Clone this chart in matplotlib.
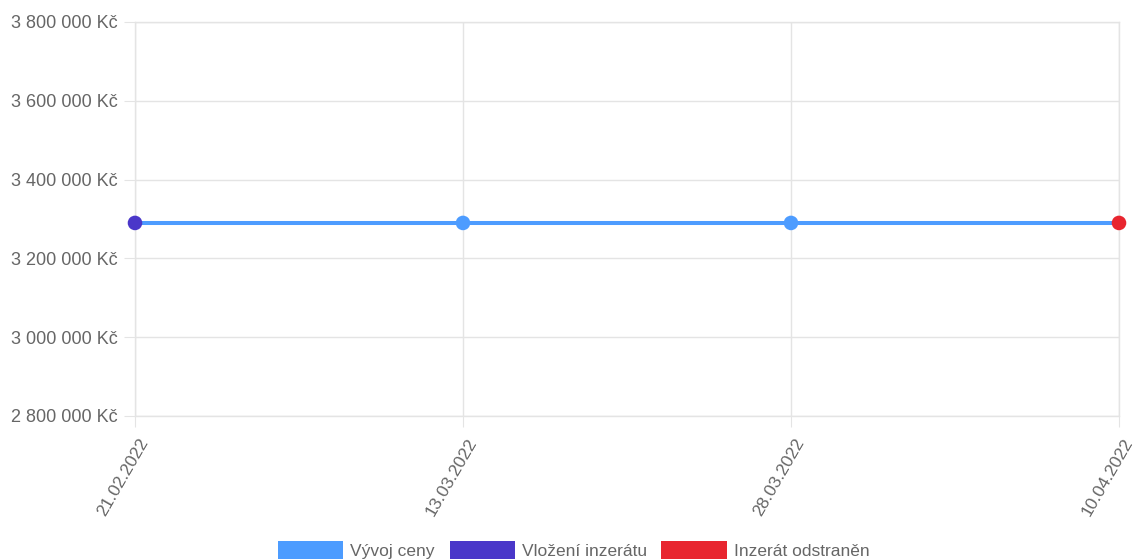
import matplotlib.pyplot as plt
import matplotlib.transforms as mtransforms
from matplotlib.patches import Patch

plt.rcParams['font.family'] = ['Liberation Sans', 'DejaVu Sans']

dates = ['21.02.2022', '13.03.2022', '28.03.2022', '10.04.2022']
prices = [3290000, 3290000, 3290000, 3290000]
point_colors = ['#4a37c9', '#4d9cff', '#4d9cff', '#e8252f']
yticks = [2800000, 3000000, 3200000, 3400000, 3600000, 3800000]
legend_labels = ['Vývoj ceny', 'Vložení inzerátu', 'Inzerát odstraněn']
legend_colors = ['#4d9cff', '#4a37c9', '#e8252f']

grid_c = '#e4e4e4'
text_c = '#666666'
fs = 13

fig = plt.figure(figsize=(11.36, 5.6), dpi=100)
ax = fig.add_axes([135/1136, 1 - 416/560, (1119 - 135)/1136, (416 - 22)/560])

x = list(range(len(dates)))
ax.plot(x, prices, color='#4d9cff', lw=2.9, zorder=3, clip_on=False)
ax.scatter(x, prices, s=10.5**2, c=point_colors, zorder=4, clip_on=False, linewidths=0)

ax.set_xlim(0, len(dates) - 1)
ax.set_ylim(yticks[0], yticks[-1])
ax.set_yticks(yticks)
ax.set_yticklabels([f'{v:,} Kč'.replace(',', ' ') for v in yticks])
ax.set_xticks(x)
ax.set_xticklabels(dates, rotation=60, rotation_mode='anchor', ha='right', va='center')

ax.grid(True, color=grid_c, lw=1)
for s in ax.spines.values():
    s.set_color(grid_c)
    s.set_linewidth(1)
ax.tick_params(axis='both', colors=grid_c, labelcolor=text_c, labelsize=fs, length=8)
ax.tick_params(axis='x', labelsize=12.5, pad=6)
ax.tick_params(axis='y', pad=4.5)

# shift rotated date labels a bit to the right / down
offset = mtransforms.ScaledTranslation(10/100, -4/100, fig.dpi_scale_trans)
for lbl in ax.get_xticklabels():
    lbl.set_transform(lbl.get_transform() + offset)

handles = [Patch(facecolor=c, edgecolor='none') for c in legend_colors]
fig.legend(handles, legend_labels, loc='center', bbox_to_anchor=(0.505, 1 - 550/560), ncol=3,
           frameon=False, fontsize=12.5, labelcolor=text_c, handlelength=3.75, handleheight=1.2,
           handletextpad=0.4, columnspacing=0.85)

fig.savefig('out.png', dpi=100)
